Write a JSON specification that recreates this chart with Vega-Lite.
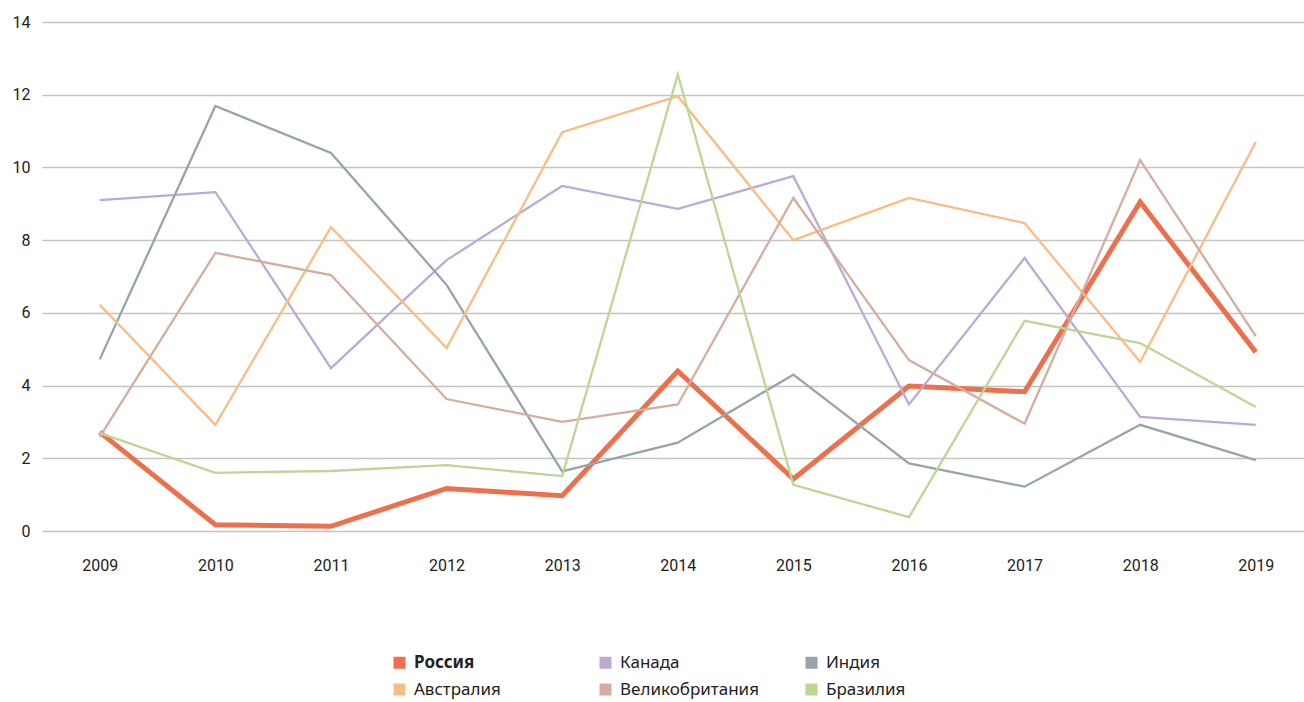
{
  "$schema": "https://vega.github.io/schema/vega-lite/v6.json",
  "width": 1262,
  "height": 509,
  "autosize": {"type": "none"},
  "padding": {"left": 42, "top": 22, "right": 0, "bottom": 171},
  "background": "white",
  "config": {
    "view": {"stroke": null},
    "font": "Roboto"
  },
  "data": {
    "values": [
      {"year": "2009", "country": "Россия", "value": 2.72},
      {"year": "2010", "country": "Россия", "value": 0.17},
      {"year": "2011", "country": "Россия", "value": 0.13},
      {"year": "2012", "country": "Россия", "value": 1.17},
      {"year": "2013", "country": "Россия", "value": 0.97},
      {"year": "2014", "country": "Россия", "value": 4.40},
      {"year": "2015", "country": "Россия", "value": 1.43},
      {"year": "2016", "country": "Россия", "value": 3.99},
      {"year": "2017", "country": "Россия", "value": 3.83},
      {"year": "2018", "country": "Россия", "value": 9.05},
      {"year": "2019", "country": "Россия", "value": 4.92},
      {"year": "2009", "country": "Канада", "value": 9.10},
      {"year": "2010", "country": "Канада", "value": 9.32},
      {"year": "2011", "country": "Канада", "value": 4.48},
      {"year": "2012", "country": "Канада", "value": 7.45},
      {"year": "2013", "country": "Канада", "value": 9.49},
      {"year": "2014", "country": "Канада", "value": 8.86},
      {"year": "2015", "country": "Канада", "value": 9.76},
      {"year": "2016", "country": "Канада", "value": 3.48},
      {"year": "2017", "country": "Канада", "value": 7.51},
      {"year": "2018", "country": "Канада", "value": 3.14},
      {"year": "2019", "country": "Канада", "value": 2.92},
      {"year": "2009", "country": "Индия", "value": 4.72},
      {"year": "2010", "country": "Индия", "value": 11.69},
      {"year": "2011", "country": "Индия", "value": 10.40},
      {"year": "2012", "country": "Индия", "value": 6.77},
      {"year": "2013", "country": "Индия", "value": 1.64},
      {"year": "2014", "country": "Индия", "value": 2.43},
      {"year": "2015", "country": "Индия", "value": 4.30},
      {"year": "2016", "country": "Индия", "value": 1.86},
      {"year": "2017", "country": "Индия", "value": 1.22},
      {"year": "2018", "country": "Индия", "value": 2.92},
      {"year": "2019", "country": "Индия", "value": 1.95},
      {"year": "2009", "country": "Австралия", "value": 6.22},
      {"year": "2010", "country": "Австралия", "value": 2.92},
      {"year": "2011", "country": "Австралия", "value": 8.36},
      {"year": "2012", "country": "Австралия", "value": 5.03},
      {"year": "2013", "country": "Австралия", "value": 10.97},
      {"year": "2014", "country": "Австралия", "value": 11.96},
      {"year": "2015", "country": "Австралия", "value": 8.00},
      {"year": "2016", "country": "Австралия", "value": 9.16},
      {"year": "2017", "country": "Австралия", "value": 8.47},
      {"year": "2018", "country": "Австралия", "value": 4.65},
      {"year": "2019", "country": "Австралия", "value": 10.70},
      {"year": "2009", "country": "Великобритания", "value": 2.59},
      {"year": "2010", "country": "Великобритания", "value": 7.65},
      {"year": "2011", "country": "Великобритания", "value": 7.04},
      {"year": "2012", "country": "Великобритания", "value": 3.63},
      {"year": "2013", "country": "Великобритания", "value": 3.00},
      {"year": "2014", "country": "Великобритания", "value": 3.48},
      {"year": "2015", "country": "Великобритания", "value": 9.16},
      {"year": "2016", "country": "Великобритания", "value": 4.70},
      {"year": "2017", "country": "Великобритания", "value": 2.95},
      {"year": "2018", "country": "Великобритания", "value": 10.20},
      {"year": "2019", "country": "Великобритания", "value": 5.36},
      {"year": "2009", "country": "Бразилия", "value": 2.69},
      {"year": "2010", "country": "Бразилия", "value": 1.60},
      {"year": "2011", "country": "Бразилия", "value": 1.65},
      {"year": "2012", "country": "Бразилия", "value": 1.81},
      {"year": "2013", "country": "Бразилия", "value": 1.51},
      {"year": "2014", "country": "Бразилия", "value": 12.56},
      {"year": "2015", "country": "Бразилия", "value": 1.27},
      {"year": "2016", "country": "Бразилия", "value": 0.38},
      {"year": "2017", "country": "Бразилия", "value": 5.78},
      {"year": "2018", "country": "Бразилия", "value": 5.17},
      {"year": "2019", "country": "Бразилия", "value": 3.41}
    ]
  },
  "mark": {"type": "line", "strokeJoin": "miter"},
  "encoding": {
    "x": {
      "field": "year",
      "type": "ordinal",
      "scale": {"type": "point", "padding": 0.4585, "align": 0.545},
      "axis": {
        "title": null,
        "labelAngle": 0,
        "ticks": false,
        "domain": false,
        "grid": false,
        "labelFont": "Roboto",
        "labelFontSize": 16,
        "labelColor": "#222222",
        "labelPadding": 26
      }
    },
    "y": {
      "field": "value",
      "type": "quantitative",
      "scale": {"domain": [0, 14], "nice": false},
      "axis": {
        "title": null,
        "values": [0, 2, 4, 6, 8, 10, 12, 14],
        "ticks": false,
        "domain": false,
        "grid": true,
        "gridColor": "#c4c4c4",
        "gridWidth": 1.5,
        "labelFont": "Roboto",
        "labelFontSize": 16,
        "labelColor": "#222222",
        "labelPadding": 12
      }
    },
    "color": {
      "field": "country",
      "type": "nominal",
      "sort": null,
      "scale": {
        "domain": ["Россия", "Канада", "Индия", "Австралия", "Великобритания", "Бразилия"],
        "range": ["#ee6f4c", "#b9abd6", "#95a5ab", "#fdbb84", "#d4ada0", "#bfd594"]
      },
      "legend": {
        "title": null,
        "orient": "none",
        "legendX": 349,
        "legendY": 632,
        "direction": "horizontal",
        "columns": 3,
        "gridAlign": "all",
        "columnPadding": 37,
        "rowPadding": -4,
        "padding": 0,
        "symbolType": "square",
        "symbolSize": 36,
        "symbolStrokeWidth": 6,
        "symbolOffset": 0,
        "labelFont": "Noto Sans",
        "labelFontSize": 17,
        "labelColor": "#222222",
        "labelOffset": 6,
        "labelLimit": 400,
        "labelFontWeight": {"expr": "datum.label == 'Россия' ? 'bold' : 'normal'"}
      }
    },
    "strokeWidth": {
      "condition": {"test": "datum.country == 'Россия'", "value": 5},
      "value": 2.3
    }
  }
}
